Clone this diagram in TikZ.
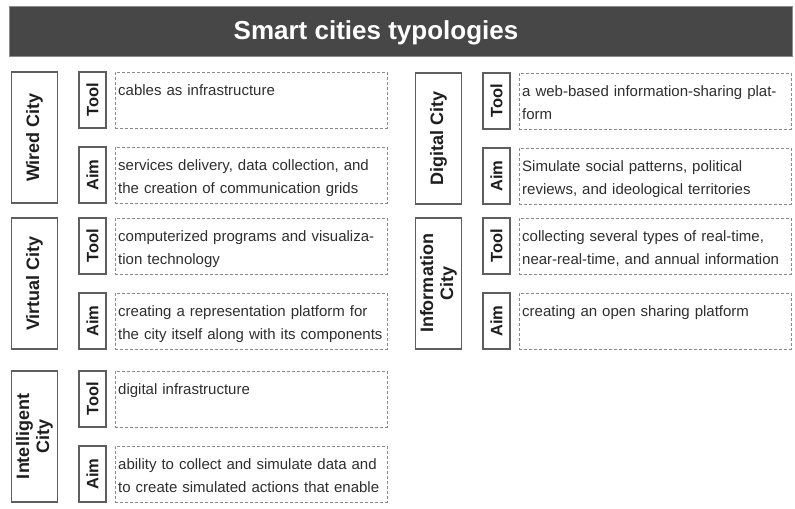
\documentclass[tikz,border=0pt]{standalone}
\usepackage{fontspec}
\setmainfont{Liberation Sans}
\definecolor{barfill}{HTML}{474747}
\definecolor{barline}{HTML}{8C8C8C}
\definecolor{solidline}{HTML}{5E5E5E}
\definecolor{dashline}{HTML}{8A8A8A}
\definecolor{bodytext}{HTML}{2E2E2E}
\definecolor{labeltext}{HTML}{1E1E1E}
\tikzset{
  titlebar/.style={draw=barline, line width=1bp, fill=barfill, minimum width=782bp, minimum height=50bp, inner sep=0pt},
  titletext/.style={text=white, font=\bfseries\fontsize{26bp}{30bp}\selectfont, inner sep=0pt},
  citybox/.style={draw=solidline, line width=1.2bp, rotate=90, minimum height=46bp, inner sep=0pt, align=center,
    text=labeltext, font=\bfseries\fontsize{18bp}{20bp}\selectfont},
  lblbox/.style={draw=solidline, line width=1.2bp, rotate=90, minimum width=56bp, minimum height=27bp, inner sep=0pt,
    text=labeltext, font=\bfseries\fontsize{16.5bp}{19bp}\selectfont},
  dbox/.style={draw=dashline, line width=0.9bp, dash pattern=on 3bp off 2bp, minimum width=272bp, minimum height=56bp, inner sep=0pt},
  btext/.style={anchor=north west, inner sep=0pt, text width=268bp, align=left, text=bodytext,
    font=\fontsize{15bp}{23bp}\selectfont},
}
\newcommand\cityrow[6]{%
  \node[citybox, minimum width=131bp] (#1c) at ({#2+34.5}, {#3+65.5}) {#4};
  \node[lblbox] (#1tl) at ({#2+92.5}, {#3+28}) {Tool};
  \node[dbox] (#1tb) at ({#2+251}, {#3+28}) {};
  \node[btext] (#1tt) at ({#2+118}, {#3+9}) {\noindent\rule{0pt}{14bp}#5};
  \node[lblbox] (#1al) at ({#2+92.5}, {#3+103}) {Aim};
  \node[dbox] (#1ab) at ({#2+251}, {#3+103}) {};
  \node[btext] (#1at) at ({#2+118}, {#3+84}) {\noindent\rule{0pt}{14bp}#6};
}
\begin{document}
\begin{tikzpicture}[x=1bp, y=-1bp]
\useasboundingbox (0,0) rectangle (795,509);
\node[titlebar] (bar) at (401,32) {};
\node[titletext] (title) at (376,33) {Smart cities typologies};
\cityrow{w}{0}{72}{Wired City}{cables as infrastructure}{services delivery, data collection, and\\the creation of communication grids}
\cityrow{v}{0}{218}{Virtual City}{computerized programs and visualiza-\\tion technology}{creating a representation platform for\\the city itself along with its components}
\cityrow{i}{0}{371}{Intelligent\\City}{digital infrastructure}{ability to collect and simulate data and\\to create simulated actions that enable}
\cityrow{d}{404}{73}{Digital City}{a web-based information-sharing plat-\\form}{Simulate social patterns, political\\reviews, and ideological territories}
\cityrow{n}{404}{218}{Information\\City}{collecting several types of real-time,\\near-real-time, and annual information}{creating an open sharing platform}
\end{tikzpicture}
\end{document}
